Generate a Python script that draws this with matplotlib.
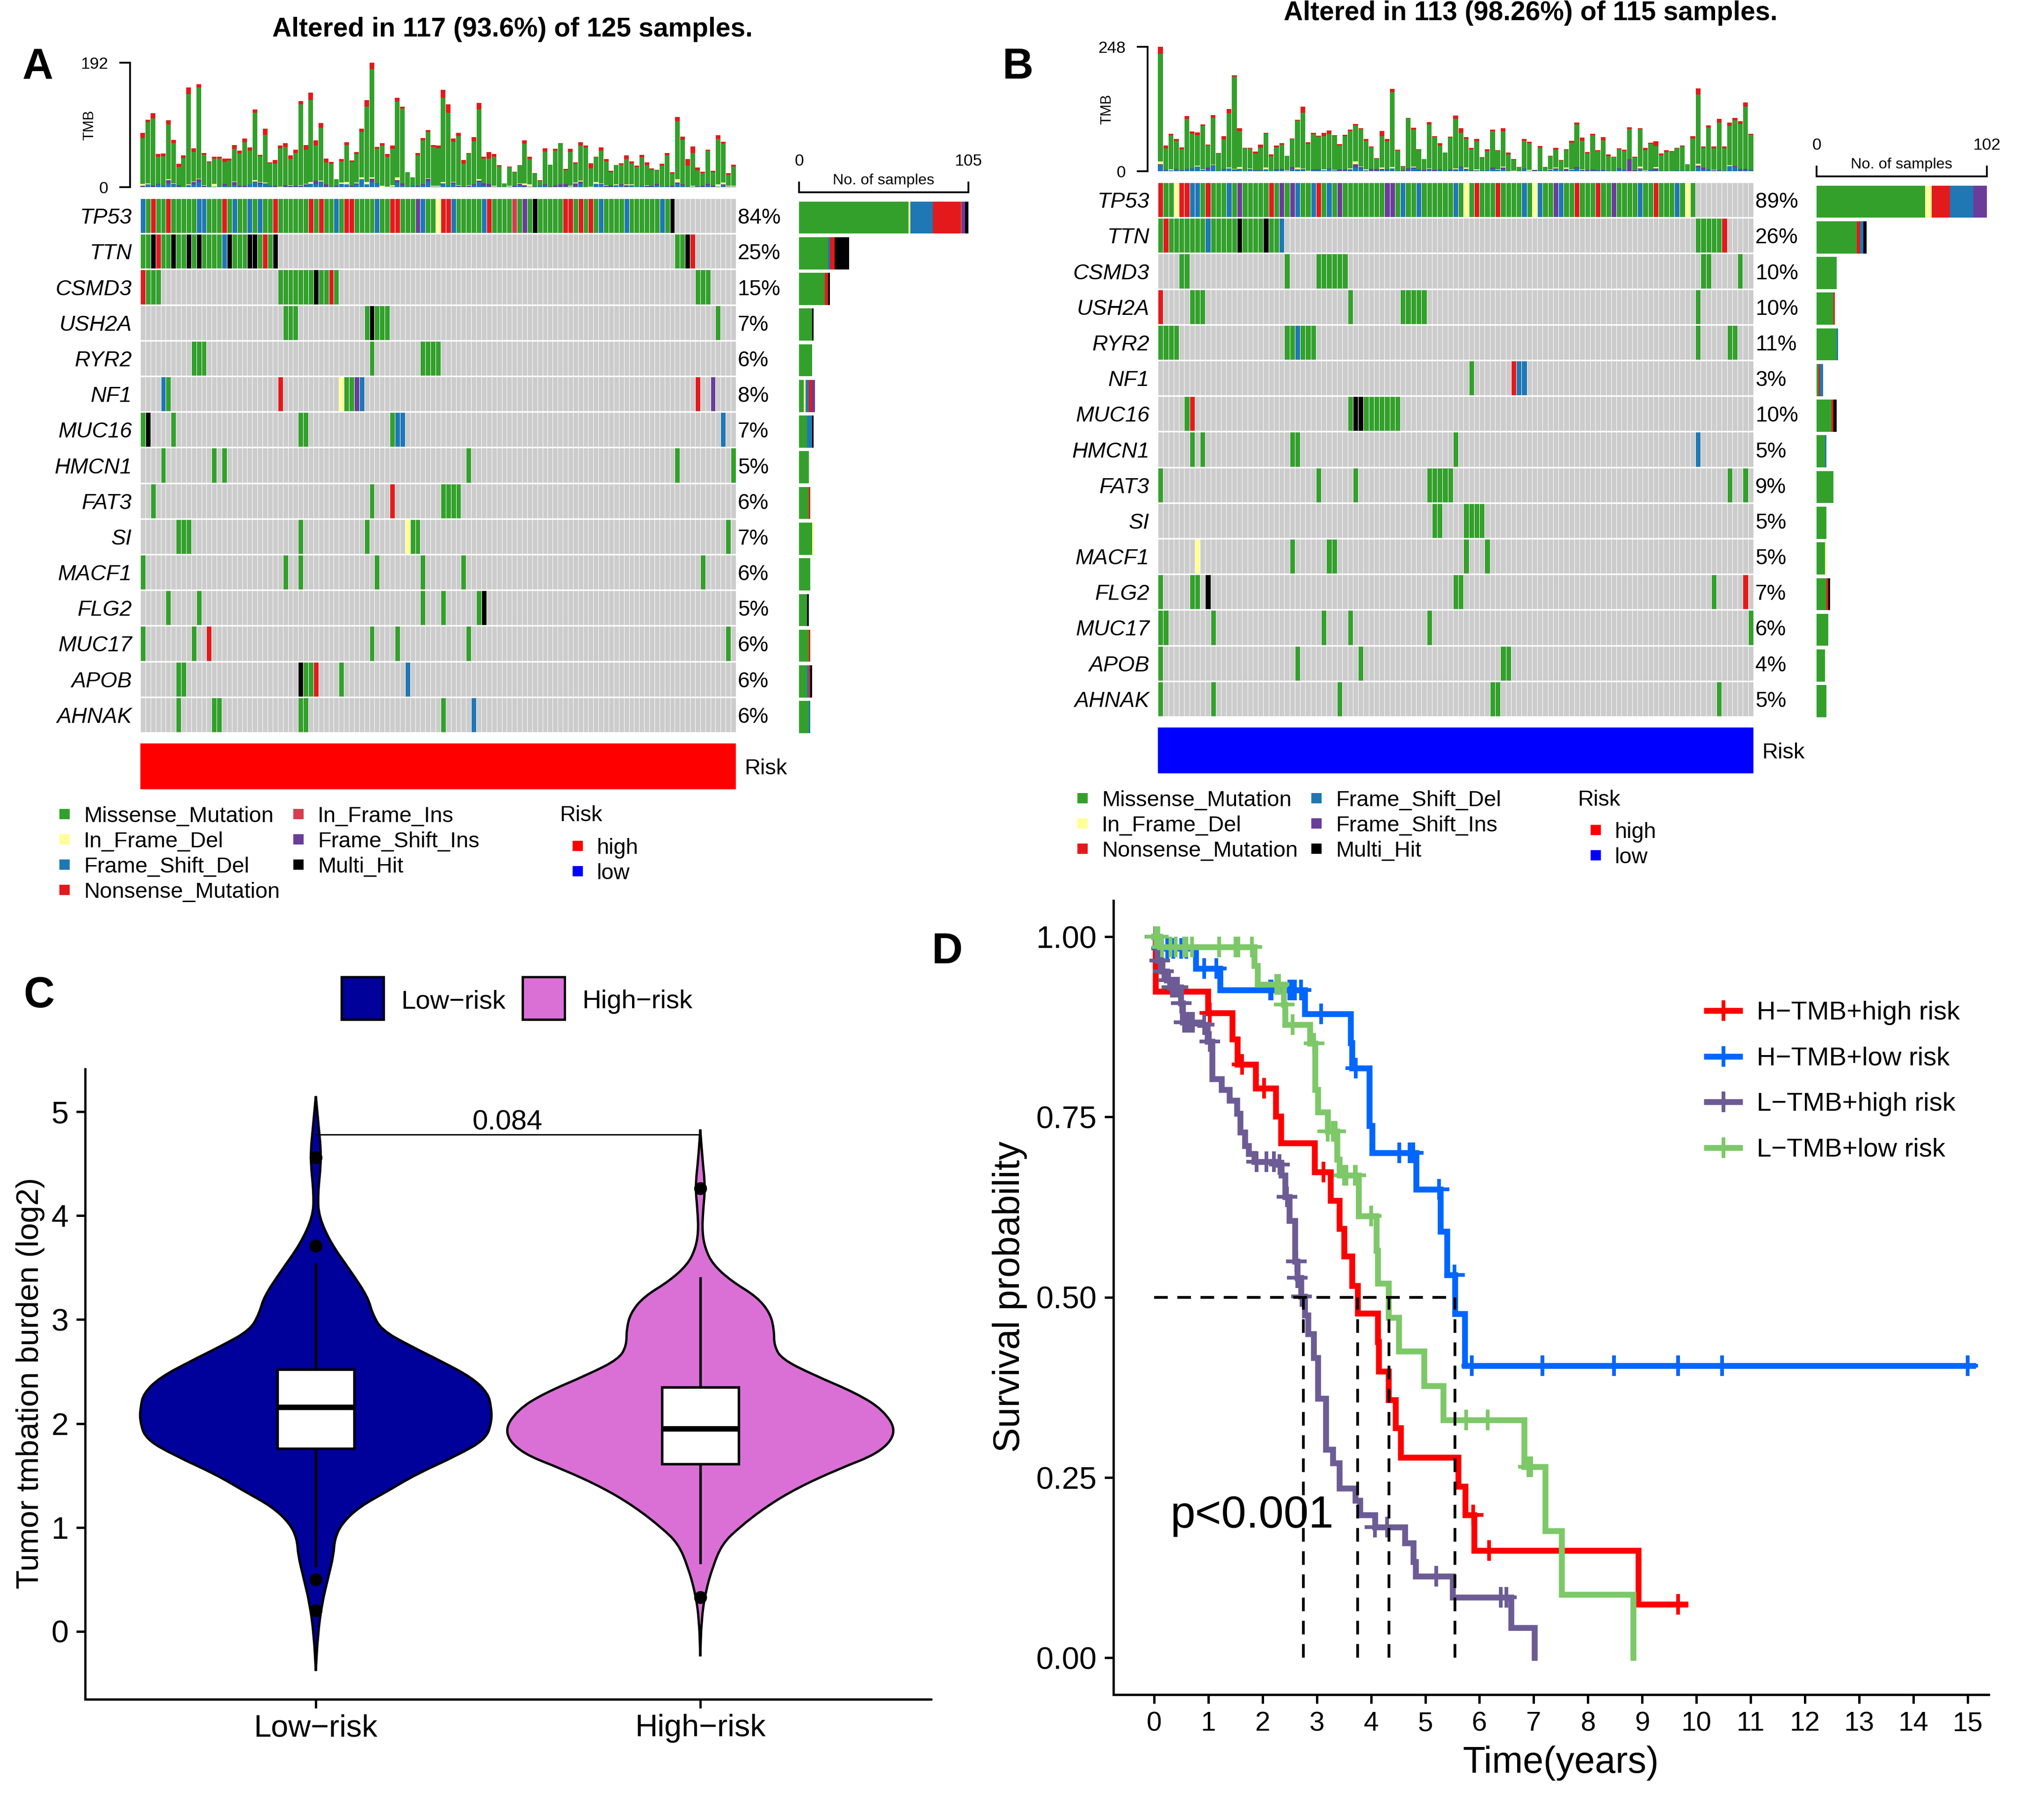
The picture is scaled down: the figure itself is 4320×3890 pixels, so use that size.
import matplotlib
matplotlib.use('Agg')
import numpy as np
import matplotlib.pyplot as plt
from matplotlib.colors import ListedColormap
from matplotlib.patches import PathPatch, Rectangle
from matplotlib.path import Path

plt.rcParams['font.family'] = ['Liberation Sans', 'DejaVu Sans']

W, H = 4320, 3890

# ---- oncoplot colours
colors = {'G': '#CCCCCC', 'M': '#33A02C', 'Y': '#FFFF99', 'F': '#1F78B4', 'N': '#E31A1C',
          'I': '#D53E4F', 'P': '#6A3D9A', 'B': '#000000'}
code_order = 'GMYFNIPB'

genes_a = ['TP53', 'TTN', 'CSMD3', 'USH2A', 'RYR2', 'NF1', 'MUC16', 'HMCN1', 'FAT3', 'SI',
           'MACF1', 'FLG2', 'MUC17', 'APOB', 'AHNAK']
pct_a = ['84%', '25%', '15%', '7%', '6%', '8%', '7%', '5%', '6%', '7%', '6%', '5%', '6%', '6%', '6%']
pct_b = ['89%', '26%', '10%', '10%', '11%', '3%', '10%', '5%', '9%', '5%', '5%', '7%', '6%', '4%', '5%']

# ---- panel A: TMB per sample (total and per class)
a_total = [84, 104, 114, 51, 52, 103, 73, 36, 49, 154,
           60, 159, 53, 40, 47, 47, 44, 44, 65, 56,
           75, 61, 120, 50, 90, 38, 42, 64, 68, 49,
           58, 133, 65, 146, 72, 99, 44, 39, 12, 43,
           69, 41, 54, 90, 134, 192, 62, 68, 51, 64,
           138, 124, 23, 15, 53, 76, 88, 65, 64, 150,
           128, 75, 84, 42, 53, 77, 130, 47, 54, 51,
           34, 6, 32, 24, 34, 72, 47, 22, 11, 60,
           35, 59, 68, 28, 59, 38, 69, 64, 37, 47,
           61, 43, 25, 34, 37, 49, 40, 33, 50, 38,
           29, 27, 36, 53, 23, 108, 78, 43, 63, 30,
           24, 58, 25, 80, 70, 22, 35]
a_nons = [8, 4, 8, 4, 4, 6, 5, 5, 4, 10,
          6, 5, 3, 2, 3, 3, 5, 3, 6, 4,
          6, 5, 5, 2, 9, 1, 6, 4, 6, 6,
          5, 5, 7, 12, 8, 7, 6, 3, 0, 3,
          4, 2, 3, 5, 10, 10, 3, 4, 4, 5,
          6, 3, 0, 0, 4, 4, 3, 3, 4, 12,
          13, 5, 5, 6, 1, 6, 10, 3, 10, 4,
          2, 0, 1, 1, 1, 5, 4, 1, 1, 5,
          0, 3, 1, 2, 5, 2, 5, 3, 8, 1,
          5, 3, 2, 1, 2, 6, 3, 2, 4, 4,
          2, 1, 3, 4, 2, 6, 5, 10, 10, 4,
          2, 2, 2, 6, 3, 3, 3]
a_fsd = [1, 4, 1, 4, 3, 6, 4, 1, 0, 2,
         4, 8, 1, 1, 1, 1, 2, 1, 3, 1,
         0, 4, 8, 4, 5, 3, 1, 0, 1, 1,
         1, 1, 2, 5, 4, 8, 1, 1, 1, 5,
         4, 1, 4, 12, 4, 8, 5, 0, 0, 1,
         8, 3, 1, 3, 1, 3, 9, 1, 1, 5,
         2, 5, 1, 0, 1, 3, 8, 2, 1, 1,
         1, 0, 1, 1, 3, 1, 1, 0, 2, 3,
         0, 1, 1, 1, 1, 1, 5, 0, 0, 5,
         4, 1, 1, 3, 3, 1, 3, 1, 2, 1,
         1, 3, 1, 2, 1, 5, 3, 1, 1, 0,
         1, 3, 1, 1, 3, 0, 1]
a_fsi = [1, 0, 2, 1, 0, 5, 1, 2, 0, 1,
         4, 4, 1, 0, 0, 0, 3, 0, 5, 1,
         2, 0, 1, 3, 1, 0, 1, 0, 2, 1,
         1, 1, 2, 0, 6, 1, 3, 0, 1, 0,
         0, 1, 2, 0, 0, 5, 1, 0, 0, 0,
         3, 3, 0, 0, 1, 1, 4, 0, 0, 1,
         0, 2, 1, 1, 1, 1, 2, 4, 4, 0,
         0, 0, 0, 1, 2, 2, 0, 1, 0, 1,
         1, 2, 3, 4, 0, 5, 4, 0, 0, 0,
         1, 1, 2, 0, 1, 2, 0, 0, 0, 1,
         1, 2, 0, 0, 1, 2, 1, 0, 0, 1,
         1, 2, 1, 0, 1, 1, 0]
a_ifd = [3, 2, 0, 0, 0, 1, 1, 0, 0, 1,
         1, 1, 1, 0, 4, 0, 0, 0, 1, 0,
         0, 0, 2, 1, 1, 0, 0, 1, 0, 1,
         0, 1, 1, 3, 0, 1, 0, 0, 0, 2,
         4, 0, 1, 3, 4, 2, 0, 2, 1, 2,
         4, 0, 0, 0, 0, 0, 1, 1, 1, 2,
         0, 1, 1, 0, 1, 0, 2, 0, 0, 1,
         0, 0, 1, 0, 1, 3, 3, 0, 0, 0,
         0, 0, 0, 0, 1, 1, 1, 0, 1, 3,
         1, 1, 0, 1, 0, 1, 1, 0, 0, 1,
         0, 0, 0, 0, 0, 5, 0, 0, 1, 0,
         0, 0, 0, 3, 3, 1, 1]

# ---- panel A: samples per gene and variant class
a_TP53 = dict(F=[0, 11, 12, 18, 21, 23, 38, 46, 55, 61, 67, 90, 95, 102],
              N=[2, 5, 16, 26, 33, 35, 40, 41, 49, 50, 59, 60, 68, 83, 84, 86, 88],
              P=[54, 75], I=[73], Y=[58], B=[77, 104],
              M=[1, 3, 4, 6, 7, 8, 9, 10, 13, 14, 15, 17, 19, 20, 22, 24, 25, 27, 28, 29, 30, 31, 32, 34,
                 36, 37, 39, 42, 43, 44, 45, 47, 48, 51, 52, 53, 56, 57, 62, 63, 64, 65, 66, 69, 70, 71,
                 72, 74, 76, 78, 79, 80, 81, 82, 85, 87, 89, 91, 92, 93, 94, 96, 97, 98, 99, 100, 101, 103])
a_TTN = dict(M=[0, 1, 4, 5, 7, 8, 10, 12, 13, 14, 15, 18, 19, 20, 23, 25, 105, 106],
             B=[2, 6, 9, 11, 17, 21, 22, 26, 107], N=[3, 24, 108], F=[16])
a_CSMD3 = dict(N=[0, 37], M=[1, 2, 3, 27, 28, 29, 30, 31, 32, 33, 35, 36, 38, 109, 110, 111], B=[34])
a_USH2A = dict(M=[28, 29, 30, 44, 46, 47, 48, 113], B=[45])
a_RYR2 = dict(M=[10, 11, 12, 45, 55, 56, 57, 58])
a_NF1 = dict(F=[4, 43], M=[5, 40, 41], N=[27, 109], Y=[39], P=[42, 112])
a_MUC16 = dict(M=[0, 6, 31, 32, 49], B=[1], F=[50, 51, 114])
a_HMCN1 = dict(M=[4, 14, 16, 64, 105, 116])
a_FAT3 = dict(M=[2, 45, 59, 60, 61, 62], N=[49])
a_SI = dict(M=[7, 8, 9, 31, 44, 53, 54, 115], Y=[52])
a_MACF1 = dict(M=[0, 28, 31, 46, 55, 63, 110])
a_FLG2 = dict(M=[5, 11, 55, 59, 66], B=[67])
a_MUC17 = dict(M=[0, 10, 45, 50, 64, 115], N=[13])
a_APOB = dict(M=[7, 8, 32, 33, 39], B=[31], N=[34], F=[52])
a_AHNAK = dict(M=[7, 14, 15, 31, 32, 59], F=[65])
rows_a = [a_TP53, a_TTN, a_CSMD3, a_USH2A, a_RYR2, a_NF1, a_MUC16, a_HMCN1, a_FAT3, a_SI,
          a_MACF1, a_FLG2, a_MUC17, a_APOB, a_AHNAK]

# ---- panel B: TMB per sample
b_total = [248, 51, 75, 64, 48, 110, 79, 77, 93, 53,
           112, 36, 70, 124, 191, 86, 47, 47, 39, 53,
           76, 34, 51, 56, 31, 65, 103, 129, 58, 76,
           71, 76, 81, 72, 54, 73, 83, 94, 86, 64,
           49, 26, 80, 64, 164, 43, 10, 106, 87, 44,
           24, 98, 70, 56, 37, 69, 111, 86, 68, 47,
           64, 28, 44, 83, 42, 86, 37, 24, 8, 64,
           59, 3, 50, 8, 31, 47, 22, 44, 61, 97,
           67, 38, 75, 42, 68, 34, 29, 46, 43, 88,
           29, 86, 47, 57, 60, 35, 42, 40, 47, 51,
           14, 70, 165, 49, 91, 49, 104, 49, 97, 106,
           100, 137, 75]
b_nons = [14, 5, 3, 3, 4, 6, 4, 5, 3, 2,
          6, 1, 7, 8, 3, 6, 1, 2, 4, 6,
          1, 4, 3, 3, 0, 1, 2, 12, 4, 2,
          2, 6, 6, 2, 3, 3, 3, 3, 2, 3,
          1, 1, 10, 4, 6, 2, 1, 1, 4, 2,
          0, 5, 2, 5, 0, 2, 7, 10, 4, 3,
          4, 2, 4, 3, 1, 7, 3, 2, 1, 3,
          3, 0, 3, 1, 1, 4, 1, 2, 4, 4,
          6, 3, 3, 2, 6, 4, 1, 2, 3, 4,
          2, 2, 5, 2, 10, 3, 4, 2, 1, 2,
          0, 5, 12, 2, 4, 3, 7, 3, 7, 4,
          6, 8, 2]
b_fsd = [12, 2, 2, 4, 1, 4, 5, 9, 3, 3,
         10, 1, 3, 6, 3, 4, 1, 5, 1, 1,
         4, 1, 2, 3, 1, 5, 4, 5, 0, 3,
         2, 2, 5, 2, 1, 2, 2, 7, 6, 2,
         1, 1, 3, 2, 6, 1, 0, 2, 6, 3,
         1, 3, 1, 2, 1, 2, 2, 7, 3, 1,
         2, 1, 2, 5, 3, 4, 1, 0, 1, 5,
         1, 0, 2, 0, 2, 4, 2, 1, 3, 6,
         2, 0, 2, 1, 2, 1, 1, 3, 2, 0,
         0, 4, 1, 2, 2, 1, 1, 0, 2, 1,
         1, 0, 7, 3, 3, 1, 2, 1, 10, 8,
         2, 2, 2]
b_fsi = [2, 1, 0, 1, 1, 1, 1, 0, 0, 4,
         2, 0, 2, 0, 1, 1, 0, 0, 1, 1,
         0, 0, 2, 2, 0, 3, 0, 0, 0, 1,
         2, 0, 1, 0, 3, 2, 2, 7, 2, 0,
         4, 4, 2, 2, 0, 0, 2, 4, 1, 1,
         2, 2, 2, 2, 0, 2, 2, 2, 2, 1,
         0, 0, 0, 2, 0, 3, 0, 0, 0, 1,
         0, 2, 0, 0, 1, 2, 0, 4, 0, 2,
         1, 2, 2, 1, 1, 0, 0, 3, 1, 24,
         2, 2, 0, 1, 4, 0, 0, 0, 0, 0,
         0, 0, 4, 4, 1, 1, 1, 0, 0, 2,
         3, 3, 1]
b_ifd = [6, 0, 2, 0, 0, 0, 0, 2, 1, 0,
         1, 0, 0, 1, 1, 3, 0, 1, 0, 0,
         3, 0, 0, 0, 1, 0, 3, 1, 1, 0,
         0, 2, 0, 1, 0, 0, 2, 6, 1, 2,
         0, 0, 2, 0, 2, 0, 0, 0, 2, 0,
         0, 1, 0, 0, 0, 0, 2, 0, 2, 0,
         2, 0, 0, 0, 1, 2, 0, 1, 0, 0,
         2, 0, 0, 0, 1, 1, 0, 2, 1, 0,
         1, 0, 0, 0, 0, 0, 0, 0, 0, 0,
         0, 3, 1, 0, 2, 0, 0, 0, 0, 0,
         0, 0, 4, 0, 0, 1, 0, 0, 2, 0,
         0, 0, 0]

b_TP53 = dict(N=[0, 4, 5, 9, 21, 30, 60, 64, 79, 83, 94],
              Y=[3, 58, 71, 100],
              F=[6, 7, 13, 26, 29, 32, 46, 49, 56, 69, 72, 76, 91, 98],
              P=[15, 23, 25, 34, 43, 44, 75, 86],
              M=[1, 2, 8, 10, 11, 12, 14, 16, 17, 18, 19, 20, 22, 24, 27, 28, 31, 33, 35, 36, 37, 38, 39,
                 40, 41, 42, 45, 47, 48, 50, 51, 52, 53, 54, 55, 57, 59, 61, 62, 63, 65, 66, 67, 68, 70,
                 73, 74, 77, 78, 80, 81, 82, 84, 85, 87, 88, 89, 90, 92, 93, 95, 96, 97, 99, 101])
b_TTN = dict(M=[0, 2, 3, 4, 5, 6, 7, 8, 10, 11, 12, 13, 14, 16, 17, 18, 19, 21, 22, 102, 103, 104, 105, 106],
             N=[1, 107], F=[9, 23], B=[15, 20])
b_CSMD3 = dict(M=[4, 5, 24, 30, 31, 32, 33, 34, 35, 103, 104, 110])
b_USH2A = dict(N=[0], M=[6, 7, 8, 36, 46, 47, 48, 49, 50, 102])
b_RYR2 = dict(M=[0, 1, 2, 3, 24, 25, 27, 28, 29, 102, 108, 109], F=[26])
b_NF1 = dict(M=[59], N=[67], F=[68, 69])
b_MUC16 = dict(M=[5, 36, 39, 40, 41, 42, 43, 44, 45], N=[6], B=[37, 38])
b_HMCN1 = dict(M=[6, 8, 25, 26, 56], F=[102])
b_FAT3 = dict(M=[0, 30, 37, 51, 52, 53, 54, 55, 108, 111])
b_SI = dict(M=[52, 53, 58, 59, 60, 61])
b_MACF1 = dict(Y=[7], M=[25, 32, 33, 58, 62])
b_FLG2 = dict(M=[0, 6, 7, 56, 57, 105], B=[9], N=[111])
b_MUC17 = dict(M=[0, 1, 10, 31, 36, 51, 112])
b_APOB = dict(M=[0, 26, 38, 65, 66])
b_AHNAK = dict(M=[0, 10, 34, 63, 64, 106])
rows_b = [b_TP53, b_TTN, b_CSMD3, b_USH2A, b_RYR2, b_NF1, b_MUC16, b_HMCN1, b_FAT3, b_SI,
          b_MACF1, b_FLG2, b_MUC17, b_APOB, b_AHNAK]

# ---- panel C: violin outline, (tmb, half width)
low_y = [5.15, 4.87, 4.56, 4.2, 3.99, 3.73, 3.47, 3.22, 3.06, 2.9, 2.75, 2.6, 2.44, 2.29, 2.16, 2.03, 1.85,
         1.69, 1.51, 1.35, 1.2, 1.04, 0.89, 0.73, 0.53, 0.27, -0.04, -0.38]
low_w = [0, .007, .015, .005, .008, .04, .09, .135, .147, .171, .244, .326, .407, .448, .456, .458, .443,
         .366, .26, .187, .114, .068, .049, .046, .033, .016, .005, 0]
high_y = [4.83, 4.56, 4.28, 4.04, 3.84, 3.68, 3.53, 3.37, 3.22, 3.06, 2.9, 2.75, 2.62, 2.47, 2.29, 2.13,
          1.92, 1.72, 1.56, 1.38, 1.2, 0.99, 0.84, 0.63, 0.37, 0.11, -0.24]
high_w = [0, .005, .013, .007, .005, .013, .033, .081, .147, .182, .192, .192, .212, .293, .407, .476,
          .512, .468, .358, .252, .171, .098, .057, .033, .013, .003, 0]
low_box = [1.76, 2.156, 2.52]
high_box = [1.61, 1.95, 2.35]
low_whisk = [0.63, 3.53]
high_whisk = [0.66, 3.4]
low_out = [4.56, 3.71, 0.5, 0.2]
high_out = [4.26, 0.33]
pval_c = '0.084'

# ---- panel D: survival steps and censoring times
red_t = [0, .03, .99, 1.44, 1.54, 1.87, 2.24, 2.34, 2.96, 3.25, 3.42, 3.5, 3.65, 3.75, 4.12, 4.14, 4.32, 4.45,
         4.55, 5.61, 5.74, 5.9, 8.93, 9.79]
red_s = [1, .924, .894, .858, .823, .79, .751, .714, .674, .634, .595, .557, .516, .478, .438, .397, .358, .319,
         .278, .238, .198, .149, .0745, .0745]
red_c = [1.03, 1.62, 2.03, 3.12, 5.88, 6.18, 9.66]
blue_t = [0, .1, .765, 1.22, 2.78, 3.62, 3.65, 3.97, 4.02, 4.83, 5.28, 5.4, 5.55, 5.73, 15.1]
blue_s = [1, .984, .956, .926, .893, .853, .818, .738, .70, .65, .591, .531, .477, .405, .405]
blue_c = [.14, .24, .35, .5, .6, .92, 1.15, 2.14, 2.17, 2.49, 2.55, 2.6, 2.71, 3.08, 3.72, 4.52, 4.71, 4.78,
          5.25, 5.54, 5.86, 7.16, 8.48, 9.66, 10.47, 15.0]
purple_t = [0, .06, .14, .23, .31, .49, .53, .85, .98, 1.07, 1.24, 1.39, 1.53, 1.59, 1.67, 1.74, 1.85, 2.24, 2.35,
            2.42, 2.49, 2.6, 2.64, 2.71, 2.78, 2.84, 2.94, 3.02, 3.17, 3.3, 3.42, 3.71, 3.8, 4.07, 4.62, 4.78,
            4.82, 5.5, 6.58, 7.01]
purple_s = [1, .967, .952, .94, .93, .908, .881, .878, .855, .803, .788, .773, .755, .729, .71, .699, .688, .684,
            .669, .639, .606, .55, .527, .501, .475, .449, .416, .36, .289, .27, .235, .218, .198, .181, .159,
            .133, .113, .084, .042, 0]
purple_c = [.02, .1, .17, .28, .33, .36, .39, .44, .5, .55, .58, .6, .63, .68, .72, .92, 1.03, 1.89, 2.07, 2.21,
            2.31, 2.45, 2.62, 2.64, 2.72, 4.07, 4.3, 5.2, 6.39, 6.5]
green_t = [0, .1, 1.85, 1.91, 2.39, 2.42, 2.87, 2.97, 3.02, 3.2, 3.37, 3.42, 3.77, 4.1, 4.12, 4.32, 4.51, 4.98,
           5.33, 6.82, 7.21, 7.51, 8.83]
green_s = [1, .986, .96, .934, .906, .878, .852, .788, .757, .73, .691, .669, .613, .565, .519, .472, .425, .377,
           .33, .265, .176, .088, 0]
green_c = [.03, .08, .15, .3, .4, .55, .6, .7, 1.2, 1.5, 1.55, 1.8, 2.25, 2.3, 2.4, 2.55, 2.95, 3.2, 3.3, 3.35,
           3.5, 3.55, 3.7, 3.72, 4.0, 5.75, 6.15, 6.9, 6.95]
median_t = [2.75, 3.75, 4.33, 5.55]
km_labels = ['H\u2212TMB+high risk', 'H\u2212TMB+low risk', 'L\u2212TMB+high risk', 'L\u2212TMB+low risk']
km_colors = ['#FF0000', '#0066FF', '#6C5B94', '#7DC868']

fig = plt.figure(figsize=(W / 300, H / 300), dpi=300)


def box(x0, y0, x1, y1):
    return fig.add_axes([x0 / W, 1 - y1 / H, (x1 - x0) / W, (y1 - y0) / H])


over = fig.add_axes([0, 0, 1, 1], zorder=10)
over.set_xlim(0, W)
over.set_ylim(H, 0)
over.axis('off')
over.patch.set_alpha(0)


def txt(x, y, s, size, **kw):
    kw.setdefault('ha', 'left')
    kw.setdefault('va', 'center')
    # centre of the glyphs sits a bit below matplotlib's centre line
    over.text(x, y + 5, s, fontsize=size, **kw)


def oncoplot(x0, x1, y0, total, nons, fsd, fsi, ifd, rows, pct, tmb_max, bar_x0, bar_x1, bar_max, bar_order,
             risk_color):
    n = len(total)
    row_h = 76.2
    y1 = y0 + 15 * row_h
    total = np.array(total)
    nons = np.array(nons)
    fsd = np.array(fsd)
    fsi = np.array(fsi)
    ifd = np.array(ifd)

    # TMB bars
    ax = box(x0, y0 - 289, x1, y0 - 23)
    xs = np.arange(n) + .5
    bottom = np.zeros(n)
    miss = total - nons - fsd - fsi - ifd
    for vals, c in [(fsd, 'F'), (fsi, 'P'), (ifd, 'Y'), (miss, 'M'), (nons, 'N')]:
        ax.bar(xs, vals, bottom=bottom, width=.92, color=colors[c], linewidth=0)
        bottom = bottom + vals
    ax.set_xlim(0, n)
    ax.set_ylim(0, tmb_max)
    ax.set_yticks([0, tmb_max])
    ax.set_xticks([])
    ax.tick_params(axis='y', length=5.5, width=.9, labelsize=8.5, pad=5.8)
    for s in ['top', 'right', 'bottom']:
        ax.spines[s].set_visible(False)
    ax.spines['left'].set_position(('outward', 5.3))
    ax.spines['left'].set_linewidth(.9)
    ax.patch.set_alpha(0)
    txt(x0 - 109, y0 - 160, 'TMB', 7.4, rotation=90, ha='center')

    # matrix
    mat = np.zeros((15, n), dtype=int)
    for i, r in enumerate(rows):
        for code, cols in r.items():
            mat[i, cols] = code_order.index(code)
    ax = box(x0, y0, x1, y1)
    ax.pcolormesh(mat, cmap=ListedColormap([colors[c] for c in code_order]), vmin=-.5, vmax=7.5,
                  edgecolors='white', linewidth=.22)
    ax.hlines(np.arange(0, 16), 0, n, color='white', lw=.8)
    ax.set_xlim(0, n)
    ax.set_ylim(15, 0)
    ax.axis('off')
    for i in range(15):
        yc = y0 + (i + .5) * row_h
        txt(x0 - 18, yc, genes_a[i], 11.2, ha='right', style='italic')
        txt(x1 + 4, yc, pct[i], 11)

    # sample counts
    ax = box(bar_x0, y0, bar_x1, y1 + 1)
    for i, r in enumerate(rows):
        left = 0
        for c in bar_order:
            k = len(r.get(c, []))
            if k:
                ax.barh(i + .55, k, left=left, height=.9, color=colors[c], linewidth=0)
                left += k
    ax.set_xlim(0, bar_max)
    ax.set_ylim(15, 0)
    ax.set_yticks([])
    ax.set_xticks([0, bar_max])
    ax.xaxis.tick_top()
    ax.tick_params(axis='x', length=5.5, width=.9, labelsize=8.5, pad=6.5)
    for s in ['left', 'right', 'bottom']:
        ax.spines[s].set_visible(False)
    ax.spines['top'].set_position(('outward', 2.9))
    ax.spines['top'].set_linewidth(.9)
    ax.patch.set_alpha(0)
    txt((bar_x0 + bar_x1) / 2, y0 - 42, 'No. of samples', 7.8, ha='center')

    # risk annotation
    ax = box(x0, y1 + 23, x1, y1 + 121)
    ax.pcolormesh(np.zeros((1, n)), cmap=ListedColormap([risk_color]))
    ax.axis('off')
    txt(x1 + 18, y1 + 72, 'Risk', 11.3)


oncoplot(300, 1573, 423, a_total, a_nons, a_fsd, a_fsi, a_ifd, rows_a, pct_a, 192, 1708, 2070, 105, 'MYFNIPB',
         '#FF0000')
oncoplot(2475, 3748, 389, b_total, b_nons, b_fsd, b_fsi, b_ifd, rows_b, pct_b, 248, 3883, 4247, 102, 'MYNFPB',
         '#0000FF')

txt(1095, 58, 'Altered in 117 (93.6%) of 125 samples.', 13.7, ha='center', fontweight='bold')
txt(3272, 23, 'Altered in 113 (98.26%) of 115 samples.', 13.7, ha='center', fontweight='bold')

# oncoplot legends
legend_a1 = ['Missense_Mutation', 'In_Frame_Del', 'Frame_Shift_Del', 'Nonsense_Mutation']
legend_a1_c = ['M', 'Y', 'F', 'N']
legend_a2 = ['In_Frame_Ins', 'Frame_Shift_Ins', 'Multi_Hit']
legend_a2_c = ['I', 'P', 'B']
legend_b1 = ['Missense_Mutation', 'In_Frame_Del', 'Nonsense_Mutation']
legend_b1_c = ['M', 'Y', 'N']
legend_b2 = ['Frame_Shift_Del', 'Frame_Shift_Ins', 'Multi_Hit']
legend_b2_c = ['F', 'P', 'B']


def key_column(x, y, labels, cols):
    for i, (s, c) in enumerate(zip(labels, cols)):
        over.scatter([x], [y + i * 54], marker='s', s=26, color=c, linewidths=0)
        txt(x + 41, y + i * 54, s, 11.3)


key_column(138, 1740, legend_a1, [colors[c] for c in legend_a1_c])
key_column(638, 1740, legend_a2, [colors[c] for c in legend_a2_c])
txt(1196, 1738, 'Risk', 11.3)
key_column(1235, 1808, ['high', 'low'], ['#FF0000', '#0000FF'])
key_column(2314, 1706, legend_b1, [colors[c] for c in legend_b1_c])
key_column(2814, 1706, legend_b2, [colors[c] for c in legend_b2_c])
txt(3372, 1705, 'Risk', 11.3)
key_column(3411, 1774, ['high', 'low'], ['#FF0000', '#0000FF'])

# panel letters
for s, x, y in [('A', 81, 139), ('B', 2176, 139), ('C', 83, 2124), ('D', 2025, 2030)]:
    txt(x, y, s, 22, ha='center', fontweight='bold')

# ---- panel C


def violin_path(pos, ys, ws):
    right = [(pos + w, y) for y, w in zip(ys, ws)]
    left = [(pos - w, y) for y, w in zip(ys, ws)]
    # the bottom tip goes in twice so that the curve reaches it
    pts = right + [right[-1]] + left[::-1][1:]
    verts = [pts[0]]
    codes = [Path.MOVETO]
    for i in range(1, len(pts) - 1):
        mid = ((pts[i][0] + pts[i + 1][0]) / 2, (pts[i][1] + pts[i + 1][1]) / 2)
        verts += [pts[i], mid]
        codes += [Path.CURVE3, Path.CURVE3]
    verts.append(pts[0])
    codes.append(Path.LINETO)
    return Path(verts, codes)


ax = box(182, 2285, 1990, 3632)
for pos, ys, ws, col, bx, wh, out in [(1, low_y, low_w, '#00009A', low_box, low_whisk, low_out),
                                      (2, high_y, high_w, '#DA70D6', high_box, high_whisk, high_out)]:
    ax.add_patch(PathPatch(violin_path(pos, ys, ws), facecolor=col, edgecolor='black', lw=1.2))
    ax.plot([pos, pos], wh, color='black', lw=1.3, zorder=3)
    ax.add_patch(Rectangle((pos - .1, bx[0]), .2, bx[2] - bx[0], facecolor='white', edgecolor='black', lw=1.3,
                           zorder=4))
    ax.plot([pos - .1, pos + .1], [bx[1], bx[1]], color='black', lw=2.8, zorder=5, solid_capstyle='butt')
    ax.plot([pos] * len(out), out, 'o', color='black', ms=5.6, zorder=5)
ax.plot([1, 2], [4.78, 4.78], color='black', lw=.7, zorder=6)
ax.set_xlim(.4, 2.6)
ax.set_ylim(-.653, 5.41)
ax.set_xticks([1, 2])
ax.set_xticklabels(['Low\u2212risk', 'High\u2212risk'])
ax.set_yticks([0, 1, 2, 3, 4, 5])
ax.tick_params(length=4.5, width=1.2, labelsize=16, pad=4)
ax.tick_params(axis='x', pad=3)
for s in ['top', 'right']:
    ax.spines[s].set_visible(False)
for s in ['left', 'bottom']:
    ax.spines[s].set_linewidth(1.2)
txt(1085, 2394, pval_c, 14.4, ha='center')
txt(65, 2952, 'Tumor tmbation burden (log2)', 16, ha='center', rotation=90)
for x0, col, s in [(730, '#00009A', 'Low\u2212risk'), (1117, '#DA70D6', 'High\u2212risk')]:
    over.add_patch(Rectangle((x0, 2088), 90, 91, facecolor=col, edgecolor='black', lw=1.2))
    txt(x0 + 127, 2136, s, 13.5)

# ---- panel D
ax = box(2380, 1925, 4251, 3622)
km = [(red_t, red_s, red_c), (blue_t, blue_s, blue_c), (purple_t, purple_s, purple_c), (green_t, green_s, green_c)]
for (t, s, c), col in zip(km, km_colors):
    t = np.array(t)
    s = np.array(s)
    ax.step(t, s, where='post', color=col, lw=3, solid_joinstyle='miter')
    cy = s[np.searchsorted(t, c, side='right') - 1]
    ax.plot(c, cy, '+', color=col, ms=10.5, mew=1.9, linestyle='none')
ax.plot([0, median_t[-1]], [.5, .5], color='black', lw=1.4, ls=(0, (5, 3.5)), zorder=6)
for m in median_t:
    ax.plot([m, m], [0, .5], color='black', lw=1.4, ls=(0, (5, 3.5)), zorder=6)
ax.text(.3, .197, 'p<0.001', fontsize=23, va='center', zorder=7)
ax.set_xlim(-.75, 15.39)
ax.set_ylim(-.051, 1.05)
ax.set_xticks(range(16))
ax.set_yticks([0, .25, .5, .75, 1])
ax.set_yticklabels(['0.00', '0.25', '0.50', '0.75', '1.00'])
ax.tick_params(axis='x', length=4.5, width=1.2, labelsize=14, pad=4)
ax.tick_params(axis='y', length=4.5, width=1.2, labelsize=16, pad=4)
for s in ['top', 'right']:
    ax.spines[s].set_visible(False)
for s in ['left', 'bottom']:
    ax.spines[s].set_linewidth(1.2)
txt(3336, 3763, 'Time(years)', 19, ha='center')
txt(2158, 2766, 'Survival probability', 19, ha='center', rotation=90)
for i, (s, col) in enumerate(zip(km_labels, km_colors)):
    y = 2160 + i * 97.5
    over.plot([3642, 3725], [y, y], color=col, lw=3, solid_capstyle='butt')
    over.plot([3684], [y], '+', color=col, ms=10.5, mew=1.9)
    txt(3755, y, s, 13.5)

over.set_xlim(0, W)
over.set_ylim(H, 0)
fig.savefig('out.png', dpi=300)
